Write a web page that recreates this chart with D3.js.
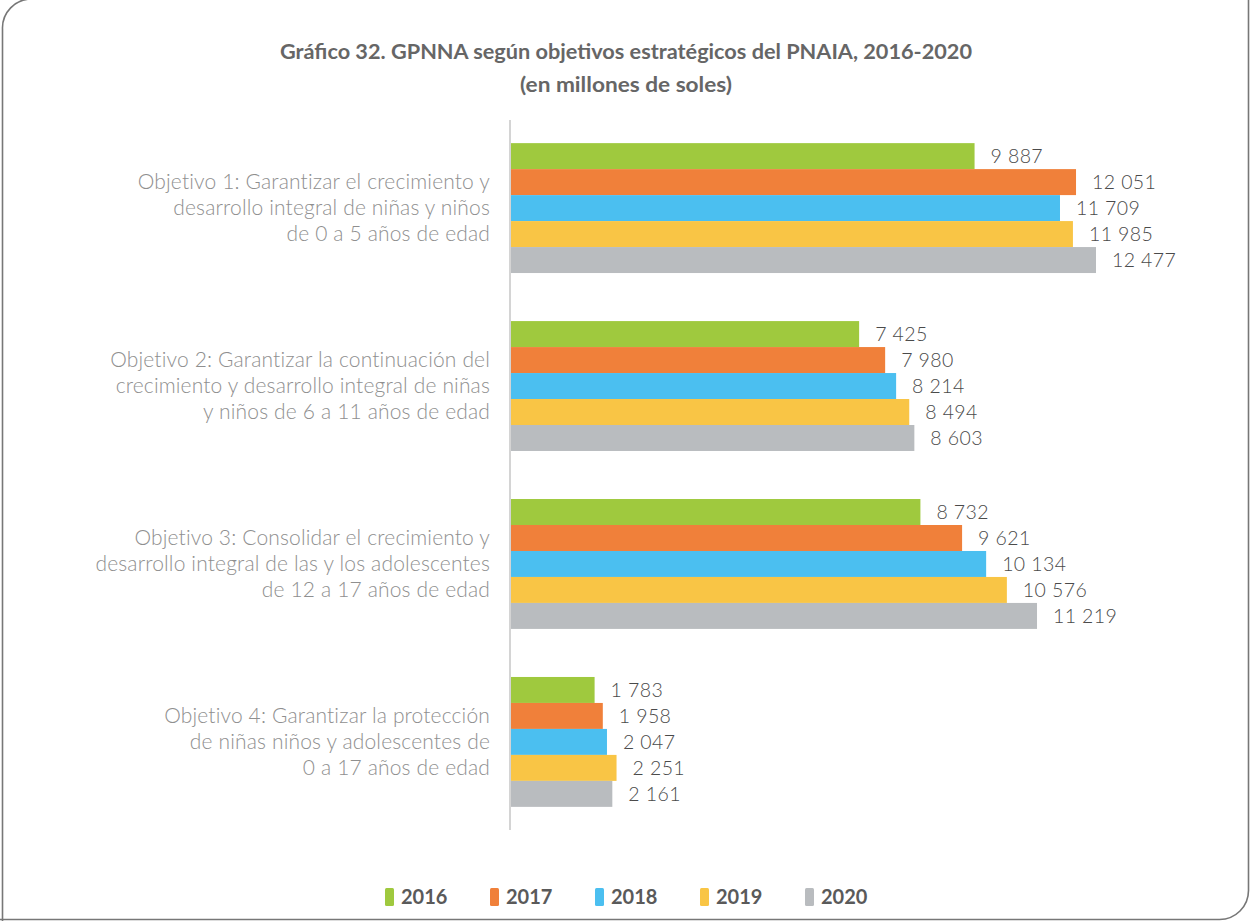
<!DOCTYPE html>
<html>
<head>
<meta charset="utf-8">
<script src="https://cdn.jsdelivr.net/npm/d3@7"></script>
<style>
  body { margin: 0; background: #fff; }
  svg { display: block; }
</style>
</head>
<body>
<script>
// datos del grafico
var objetivos = [
    ["Objetivo 1: Garantizar el crecimiento y", "desarrollo integral de niñas y niños", "de 0 a 5 años de edad"],
    ["Objetivo 2: Garantizar la continuación del", "crecimiento y desarrollo integral de niñas", "y niños de 6 a 11 años de edad"],
    ["Objetivo 3: Consolidar el crecimiento y", "desarrollo integral de las y los adolescentes", "de 12 a 17 años de edad"],
    ["Objetivo 4: Garantizar la protección", "de niñas niños y adolescentes de", "0 a 17 años de edad"]
];
var years = ["2016", "2017", "2018", "2019", "2020"];
var v2016 = [9887, 7425, 8732, 1783];
var v2017 = [12051, 7980, 9621, 1958];
var v2018 = [11709, 8214, 10134, 2047];
var v2019 = [11985, 8494, 10576, 2251];
var v2020 = [12477, 8603, 11219, 2161];
var colors = ["#9fc93e", "#f0803a", "#4bbff0", "#f9c545", "#b9bcbf"];

var series = [v2016, v2017, v2018, v2019, v2020];

var width = 1250;
var height = 921;

var svg = d3.select("body")
            .append("svg")
            .attr("width", width)
            .attr("height", height);

// marco con esquinas redondeadas (arriba-izq y abajo-der)
var r = 29;
svg.append("path")
    .attr("d", "M2.5," + (height + 2) + " L2.5," + r + " A" + r + "," + r + " 0 0 1 " + (2.5 + r) + ",-1" +
               " L1248.5,-1 L1248.5," + (919.5 - r) + " A" + r + "," + r + " 0 0 1 " + (1248.5 - r) + ",919.5" +
               " L-2,919.5")
    .attr("fill", "none")
    .attr("stroke", "#777")
    .attr("stroke-width", 1.6);

// titulo
var title = svg.append("text")
    .attr("x", 626)
    .attr("text-anchor", "middle")
    .attr("font-family", "Lato")
    .attr("font-weight", "bold")
    .attr("font-size", 21)
    .attr("fill", "#666");
title.append("tspan").attr("x", 626).attr("y", 59)
    .attr("textLength", 692).attr("lengthAdjust", "spacingAndGlyphs")
    .text("Gráfico 32. GPNNA según objetivos estratégicos del PNAIA, 2016-2020");
title.append("tspan").attr("x", 626).attr("y", 92)
    .attr("textLength", 212).attr("lengthAdjust", "spacingAndGlyphs")
    .text("(en millones de soles)");

var x = d3.scaleLinear()
    .domain([0, 13000])
    .range([511, 511 + 13000 * 0.046886]);

var y = d3.scaleBand()
    .domain(d3.range(objetivos.length))
    .range([120, 830])
    .paddingInner(0.27)
    .paddingOuter(0.13);

var yInner = d3.scaleBand()
    .domain(years)
    .range([0, y.bandwidth()]);

var fmt = d3.formatLocale({decimal: ",", thousands: " ", grouping: [3], currency: ["", ""]}).format(",d");

var groups = svg.selectAll(".grupo")
    .data(objetivos)
    .enter()
    .append("g")
    .attr("class", "grupo")
    .attr("transform", function(d, i){ return "translate(0," + y(i) + ")"; });

groups.each(function(d, i){
    var g = d3.select(this);
    var rows = years.map(function(yr, k){ return {year: yr, value: series[k][i], color: colors[k]}; });

    g.selectAll("rect")
        .data(rows)
        .enter()
        .append("rect")
        .attr("x", x(0))
        .attr("y", function(e){ return yInner(e.year); })
        .attr("width", function(e){ return x(e.value) - x(0); })
        .attr("height", yInner.bandwidth())
        .attr("fill", function(e){ return e.color; });

    g.selectAll(".valor")
        .data(rows)
        .enter()
        .append("text")
        .attr("class", "valor")
        .attr("x", function(e){ return x(e.value) + 16; })
        .attr("y", function(e){ return yInner(e.year) + yInner.bandwidth() / 2; })
        .attr("dy", "0.36em")
        .attr("font-family", "Lato")
        .attr("font-weight", 300)
        .attr("font-size", 19.5)
        .attr("letter-spacing", 0.4)
        .attr("fill", "#4a4a4a")
        .text(function(e){ return fmt(e.value); });

    // etiqueta del objetivo
    var lab = g.append("text")
        .attr("text-anchor", "end")
        .attr("font-family", "Lato")
        .attr("font-weight", 300)
        .attr("font-size", 21)
        .attr("letter-spacing", 0.15)
        .attr("fill", "#8f8f8f");
    d.forEach(function(line, j){
        lab.append("tspan")
            .attr("x", 490)
            .attr("y", y.bandwidth() / 2 + (j - 1) * 26)
            .attr("dy", "0.35em")
            .text(line);
    });
});

// linea del eje
svg.append("line")
    .attr("x1", 510).attr("x2", 510)
    .attr("y1", 120).attr("y2", 830)
    .attr("stroke", "#d4d4d4")
    .attr("stroke-width", 2);

// leyenda
var legend = svg.selectAll(".leyenda")
    .data(years)
    .enter()
    .append("g")
    .attr("class", "leyenda")
    .attr("transform", function(d, i){ return "translate(" + (385 + i * 105) + ",888)"; });

legend.append("rect")
    .attr("width", 9)
    .attr("height", 18)
    .attr("rx", 1.5)
    .attr("fill", function(d, i){ return colors[i]; });

legend.append("text")
    .attr("x", 16)
    .attr("y", 15.5)
    .attr("font-family", "Lato")
    .attr("font-weight", "bold")
    .attr("font-size", 20)
    .attr("fill", "#5a5a5a")
    .text(function(d){ return d; });
</script>
</body>
</html>
